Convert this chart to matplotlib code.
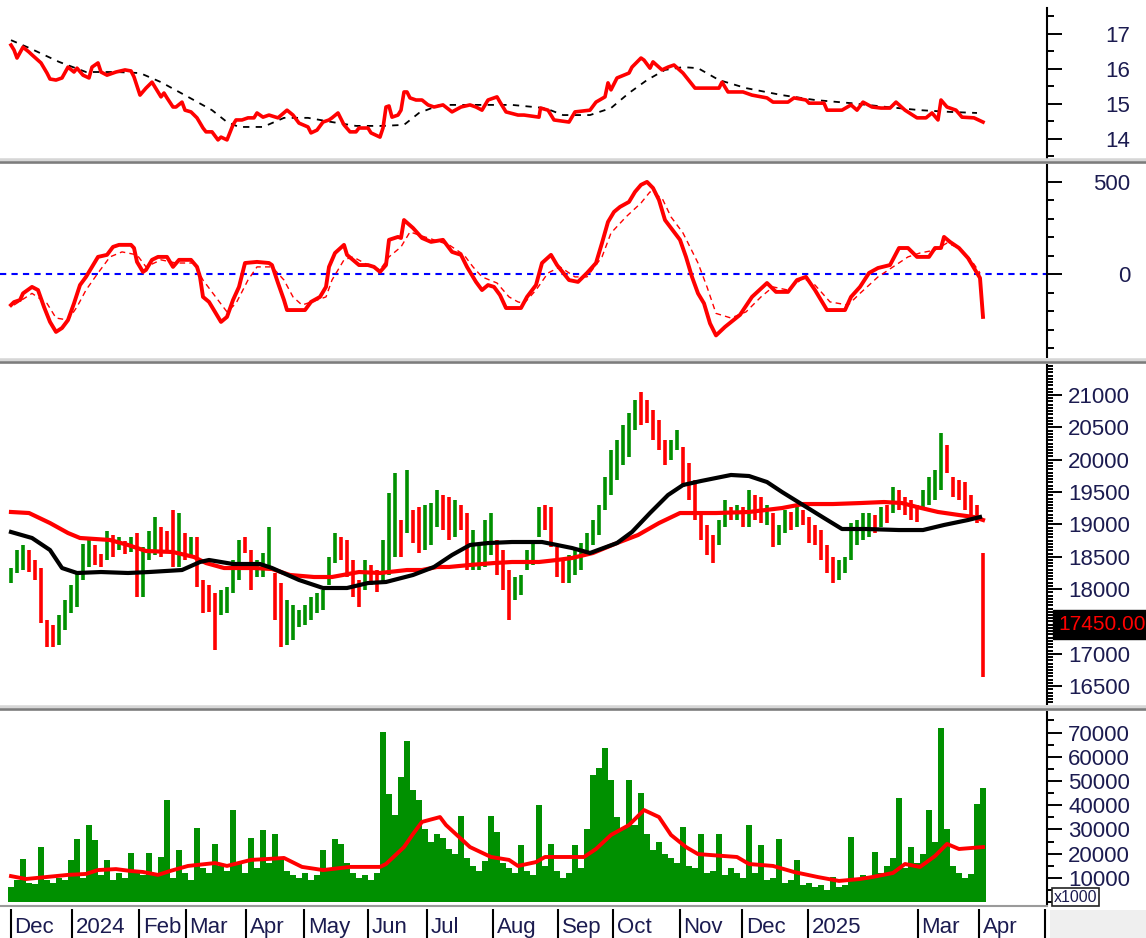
import matplotlib
matplotlib.use("Agg")
import numpy as np
import matplotlib.pyplot as plt
import matplotlib.transforms as mtransforms
from matplotlib.lines import Line2D
from matplotlib.patches import Rectangle
from matplotlib.ticker import MultipleLocator

plt.rcParams['font.family'] = ['Liberation Sans', 'DejaVu Sans']

# ---- data (x = trading-day index) ----
# top panel: red line and its dashed black average
p1_idx = [1,2,3,5,7,8,11,13,14,16,18,20,22,23,25,27,28,30,31,33,36,39,41,42,44,46,48,51,52,53,
          55,56,58,59,61,63,65,66,68,70,71,73,75,76,78,80,82,83,85,87,90,93,95,97,100,101,103,105,107,108,
          110,112,114,116,117,120,121,124,125,126,127,128,130,131,132,133,134,136,138,140,
          142,145,148,151,154,156,158,160,163,164,166,170,172,177,177.5,180,182,187,189,194,
          196,199,200,201,203,207,208,211,212,214,215,218,220,222,225,229,232,237,238,240,
          245,248,253,255,260,262,266,267,272,273,278,281,283,285,288,291,294,296,299,303,
          306,308,310,311,313,316,318,322,325]
p1_val = [16.67,16.53,16.3,16.61,16.47,16.39,16.16,15.87,15.7,15.67,15.73,16.04,15.9,16.01,15.81,15.73,16.04,16.16,15.9,15.81,
          15.9,15.96,15.93,15.76,15.24,15.44,15.61,15.19,15.3,15.16,14.9,14.9,15.04,14.81,14.76,14.59,14.3,14.19,14.19,13.96,
          14.04,13.96,14.39,14.53,14.53,14.59,14.59,14.73,14.61,14.67,14.59,14.81,14.67,14.44,14.33,14.16,14.24,14.47,14.53,14.59,
          14.73,14.39,14.19,14.19,14.3,14.3,14.16,14.04,14.3,14.9,14.93,14.61,14.67,14.81,15.33,15.33,15.16,15.1,15.1,14.96,
          14.9,14.96,14.76,14.9,14.96,14.9,14.81,15.1,15.19,15.04,14.76,14.67,14.67,14.61,14.87,14.81,14.53,14.47,14.76,14.81,
          15.04,15.19,15.59,15.39,15.73,15.87,16.04,16.3,16.24,16.01,16.19,15.96,16.04,16.1,15.87,15.44,15.44,15.44,15.61,15.33,
          15.33,15.24,15.16,15.04,15.04,15.16,15.1,15.01,15.01,14.81,14.81,14.96,14.81,15.04,14.9,14.87,14.87,15.04,14.81,14.59,
          14.59,14.73,14.53,15.1,14.9,14.81,14.61,14.59,14.47]
p1ma_idx = [1,7,17,26,36,44,51,60,68,73,77,85,92,100,108,116,125,132,137,144,
            155,168,179,185,194,201,207,213,219,225,230,237,246,258,269,281,293,304,314,323]
p1ma_val = [16.81,16.59,16.19,15.9,15.9,15.87,15.61,15.19,14.81,14.47,14.33,14.33,14.59,14.59,14.47,14.36,14.36,14.39,14.73,14.96,
            14.96,14.96,14.87,14.67,14.67,14.87,15.3,15.67,15.96,16.04,16.01,15.67,15.44,15.24,15.1,15.01,14.9,14.81,14.76,14.73]

# oscillator panel
osc_idx = [1,2,4,5,8,10,12,14,16,18,20,22,24,26,28,30,33,35,37,41,42,43,45,46,48,50,53,55,57,61,
           63,64,65,67,69,71,73,75,77,79,83,87,88,90,92,93,96,99,101,104,106,107,109,112,113,117,120,122,124,126,
           127,130,131,132,135,138,141,145,148,151,153,156,158,160,162,164,166,171,173,176,
           178,181,183,187,190,193,196,198,200,202,204,207,209,211,213,215,217,219,222,224,
           226,228,230,232,234,236,239,244,248,253,256,260,263,266,269,273,279,281,284,287,
           290,294,297,300,303,307,309,311,312,314,317,320,322,324,324.5,325]
osc_val = [-166,-150,-139,-103,-68,-85,-176,-257,-311,-290,-247,-157,-58,-14,40,94,105,148,159,159,
           142,67,13,24,78,94,94,40,78,78,40,-14,-122,-149,-203,-257,-230,-139,-68,61,
           67,61,50,-47,-139,-193,-193,-193,-149,-122,-68,40,115,159,105,50,50,40,13,50,
           186,202,196,293,250,196,175,186,121,105,40,-41,-85,-58,-68,-112,-182,-182,-122,-58,
           61,105,50,-31,-41,7,61,169,283,337,364,391,445,483,499,466,401,293,229,186,
           94,-14,-103,-157,-265,-330,-284,-219,-122,-47,-95,-95,-31,-14,-85,-193,-193,-122,-68,7,
           34,50,142,142,94,94,142,142,202,175,142,88,34,-20,-122,-230]
sig_idx = [2,8,13,16,20,23,26,30,34,38,43,46,51,56,62,65,70,73,76,80,
           83,88,92,95,98,103,106,108,112,115,120,124,127,131,134,137,142,147,152,155,
           158,163,167,170,172,176,180,184,189,193,198,201,206,211,214,218,221,225,230,233,
           236,241,246,251,255,260,265,269,274,280,284,290,295,300,304,309,313,317,321,324]
sig_val = [-166,-103,-157,-236,-247,-176,-85,7,94,121,105,40,78,61,61,-31,-139,-203,-157,-31,
           40,40,-31,-122,-166,-139,-122,-31,78,94,50,24,94,148,229,212,186,159,105,40,
           -14,-47,-122,-149,-157,-85,7,40,-14,-14,94,223,310,385,445,412,310,223,61,-68,
           -211,-236,-203,-122,-68,-85,-20,-58,-149,-166,-103,-14,40,94,115,131,169,142,78,7]

# price panel: one bar every second session
lows = [18100,18250,18300,18260,18140,17480,17100,17100,17130,17370,
        17630,17720,18140,18340,18370,18340,18450,18500,18600,18550,
        18570,17880,17880,18450,18530,18500,18570,18340,18340,18450,
        18530,18030,17630,17650,17060,17600,17630,17940,18140,18560,
        17990,18190,18190,18340,17520,17100,17130,17210,17410,17440,
        17520,17630,17680,18060,18400,18450,18190,17880,17720,17990,
        18060,17950,18090,18220,18500,18500,18870,18710,18560,18600,
        18680,18960,18910,18760,18800,18910,18300,18300,18300,18340,
        18530,18220,17990,17520,17830,17910,18300,18370,18800,18910,
        18650,18190,18090,18090,18220,18300,18560,18680,18840,19220,
        19450,19690,19920,20040,20460,20540,20570,20300,20150,19920,
        19990,20150,19580,19380,19070,18760,18530,18400,18680,18960,
        19070,19070,18960,18960,19070,19020,18990,18650,18680,18870,
        18910,18960,18990,18710,18680,18450,18250,18090,18140,18250,
        18450,18680,18760,18800,18870,18960,19020,19180,19220,19150,
        19070,19040,19220,19300,19380,19530,19790,19420,19380,19220,
        19070,19020,16640]
highs = [18330,18600,18680,18600,18450,18330,17520,17450,17600,17830,
         18060,18250,18700,18800,18680,18550,18900,18830,18800,18750,
         18800,18870,18650,18900,19110,18960,18900,19220,19170,18870,
         18800,18800,18140,18060,17940,17990,18030,18450,18760,18800,
         18600,18450,18560,18960,18250,18100,17830,17750,17680,17750,
         17880,17940,17990,18500,18870,18800,18760,18450,18140,18450,
         18370,18300,18760,19480,19790,19070,19840,19220,19270,19300,
         19330,19530,19450,19420,19380,19300,19180,18910,18710,19070,
         19180,18760,18600,18300,18190,18220,18600,18710,19270,19300,
         19270,18650,18450,18530,18600,18710,18870,19070,19300,19730,
         20150,20300,20540,20720,20920,21050,20920,20770,20610,20300,
         20300,20460,20200,19950,19690,19150,18990,18840,19070,19380,
         19270,19300,19270,19530,19450,19420,19300,19180,18990,19220,
         19190,19270,19220,19110,18990,18910,18680,18500,18450,18500,
         19020,19070,19180,19180,19150,19270,19300,19580,19530,19420,
         19380,19300,19530,19730,19840,20410,20230,19730,19690,19650,
         19450,19300,18560]
closes = [18250,18500,18600,18400,18200,17600,17250,17200,17400,17700,
          17900,18100,18550,18700,18500,18450,18800,18700,18700,18650,
          18650,18000,18500,18800,19000,18700,18650,18500,19000,18600,
          18600,18100,17800,17700,17300,17800,17900,18300,18700,18650,
          18100,18300,18450,18450,17700,17300,17500,17600,17600,17650,
          17800,17850,17900,18400,18800,18700,18250,18000,17850,18300,
          18200,18050,18600,19400,19600,18900,19100,19000,18700,19000,
          19200,19400,19100,18900,19200,19100,18400,18500,18550,18900,
          19000,18300,18100,17800,18100,18150,18500,18650,19200,19150,
          18800,18300,18200,18400,18500,18650,18800,19000,19250,19650,
          20000,20200,20400,20600,20850,20700,20650,20400,20300,20000,
          20200,20300,19700,19450,19200,18900,18700,18600,18950,19300,
          19150,19200,19100,19450,19350,19100,19150,18750,18800,19150,
          19100,19200,19050,18800,18750,18550,18350,18200,18350,18400,
          18900,18950,19050,19100,19000,19200,19150,19500,19400,19250,
          19200,19150,19450,19650,19750,20300,19900,19500,19450,19300,
          19150,19100,17450]
ma_r_idx = [1,7,14,20,24,34,40,46,55,62,66,72,82,88,94,102,108,117,124,133,
            138,143,147,154,162,168,177,183,188,195,203,210,217,224,236,247,258,265,275,284,
            292,298,303,310,317,322,325]
ma_r_val = [19192,19176,19021,18867,18790,18759,18682,18589,18573,18496,18403,18326,18326,18311,18218,18187,18187,18264,18249,18295,
            18295,18342,18342,18373,18403,18419,18419,18450,18481,18558,18712,18836,19021,19176,19176,19192,19253,19315,19315,19330,
            19346,19330,19269,19192,19145,19114,19068]
ma_k_idx = [1,8,14,18,23,31,40,47,58,64,67,75,84,88,97,105,113,120,126,135,
            142,148,154,160,168,178,183,188,194,203,208,214,220,225,231,241,247,253,258,265,
            272,278,286,297,305,312,320,324]
ma_k_val = [18883,18790,18604,18326,18249,18264,18249,18264,18295,18419,18450,18388,18388,18326,18141,18017,18017,18094,18110,18218,
            18342,18527,18682,18712,18728,18728,18682,18635,18558,18712,18883,19176,19454,19609,19671,19764,19748,19655,19501,19300,
            19099,18929,18929,18913,18913,18991,19068,19114]
last_price = 17450

# volume panel
vols = [6000,9000,17800,8000,7500,22700,9000,8000,10000,9000,
        17300,26000,10000,31800,25600,11000,17300,9000,12000,10000,
        20200,13000,11000,20200,12000,18600,42100,10000,21500,12000,
        9000,30600,14000,12000,24000,15000,13000,38000,16000,12000,
        26400,14000,29800,16000,28000,18000,13000,11000,10000,12000,
        9000,11000,21500,13000,26000,24000,16000,12000,10000,11000,
        9000,12000,70200,44600,36000,51600,66500,46300,42100,30000,
        25000,28000,26400,22000,20000,35500,18000,15000,13000,17000,
        35500,28900,16000,14000,12000,23600,13000,11000,40100,15000,
        24000,13000,10000,12000,23600,14000,30000,52500,55400,63600,
        50400,35000,30000,50400,32000,45000,28000,21500,25000,20000,
        18000,16000,31000,15000,14000,28100,12000,13000,28100,11000,
        14000,12000,10000,31800,12000,23600,9000,10000,26000,8000,
        9000,17400,7000,8000,6000,7000,5000,10300,6000,7000,
        26900,9000,11000,10000,20700,12000,15000,18000,43000,14000,
        22700,16000,20000,38000,25000,71900,30200,15000,12000,10000,
        11600,40500,47100]
vma_idx = [1,6,20,26,30,36,41,45,50,54,60,69,73,81,87,92,98,105,114,124,
           126,132,135,138,144,146,154,161,167,170,176,179,192,196,201,207,212,217,221,226,
           230,243,247,255,262,270,277,284,288,295,299,304,309,313,317,325]
vma_val = [10700,9500,11200,11600,13200,13600,12800,12400,11200,12800,14900,16100,14900,17400,17800,18200,14500,13200,14500,14500,
           15700,22700,28100,33100,35100,31800,22700,18600,17400,14900,16500,18600,18600,21900,27700,31800,38000,35100,27700,22700,
           19800,18600,15700,14900,12400,10300,8700,9500,10300,12000,15700,14500,19000,24000,21900,22700]

# month starts (trading-day index) and their labels
month_pos = [1, 21.3, 43.7, 59.3, 79.3, 98.7, 120, 139.7, 161.7, 183.3, 201.7, 224, 244.7, 266.7, 303.3, 323.7, 345.6]
month_lbl = ["Dec", "2024", "Feb", "Mar", "Apr", "May", "Jun", "Jul", "Aug", "Sep", "Oct", "Nov", "Dec", "2025", "Mar", "Apr", ""]

p1_ticks = [14, 15, 16, 17]
p2_ticks = [0, 500]
p3_ticks = list(range(16500, 21001, 500))
p4_ticks = list(range(10000, 70001, 10000))

# ---- drawing ----
W, H = 1146, 938
RED, GREEN, NAVY = '#ff0000', '#009000', '#1b1b50'
fig = plt.figure(figsize=(W / 100, H / 100), dpi=100)
fig.patch.set_facecolor('white')
XL = (-8 / 3, (1047 - 8) / 3)


def panel(top, bottom):
    ax = fig.add_axes([0, 1 - bottom / H, 1047 / W, (bottom - top) / H])
    ax.set_xlim(*XL)
    ax.set_xticks([])
    for s in ['top', 'left', 'bottom']:
        ax.spines[s].set_visible(False)
    ax.spines['right'].set_linewidth(1.5)
    ax.yaxis.tick_right()
    ax.tick_params(axis='y', which='major', length=10.8, width=1.4, pad=49,
                   labelsize=16, labelcolor=NAVY)
    ax.tick_params(axis='y', which='minor', length=5, width=1.4)
    return ax


def right_labels(ax, ticks, labels):
    ax.set_yticks(ticks, labels=labels)
    for t in ax.get_yticklabels():
        t.set_horizontalalignment('right')


# top panel
ax1 = panel(8, 158)
ax1.set_ylim(13.443, 17.729)
ax1.plot(p1ma_idx, p1ma_val, color='black', lw=1.3, ls=(0, (3.5, 3.5)))
ax1.plot(p1_idx, p1_val, color=RED, lw=2.6)
right_labels(ax1, p1_ticks, [str(v) for v in p1_ticks])
ax1.yaxis.set_minor_locator(MultipleLocator(0.5))

# oscillator panel
ax2 = panel(165, 357)
ax2.set_ylim(-446.5, 590.2)
ax2.axhline(0, color='#0000ff', lw=1.5, ls=(0, (3, 2.5)))
ax2.plot(sig_idx, sig_val, color=RED, lw=1.0, ls=(0, (4, 3)))
ax2.plot(osc_idx, osc_val, color=RED, lw=2.8)
right_labels(ax2, p2_ticks, [str(v) for v in p2_ticks])
ax2.yaxis.set_minor_locator(MultipleLocator(100))

# price panel
ax3 = panel(365, 704)
ax3.set_ylim(16224, 21464)
bar_idx = np.arange(len(closes)) * 2 + 1
prev = [closes[0]] + closes[:-1]
cols = [GREEN if c >= p else RED for c, p in zip(closes, prev)]
ax3.vlines(bar_idx, lows, highs, colors=cols, lw=2.6)
ax3.plot(ma_r_idx, ma_r_val, color=RED, lw=3)
ax3.plot(ma_k_idx, ma_k_val, color='black', lw=3)
# the 17500 label sits under the last-price box, as in the reference
right_labels(ax3, p3_ticks, ["" if v == 17500 else str(v) for v in p3_ticks])
ax3.yaxis.set_minor_locator(MultipleLocator(50))
ax3.tick_params(axis='y', which='minor', length=4)
tr = mtransforms.blended_transform_factory(ax3.transAxes, ax3.transData)
ax3.text(1 + 11 / 1047, last_price, f"{last_price:.2f}", transform=tr, ha='left', va='center',
         fontsize=15, color=RED, clip_on=False,
         bbox=dict(boxstyle='square,pad=0.25', fc='black', ec='black'))

# volume panel
ax4 = panel(712, 904)
ax4.set_ylim(-826, 78512)
ax4.bar(bar_idx, vols, width=1.9, color=GREEN, linewidth=0)
ax4.plot(vma_idx, vma_val, color=RED, lw=2.8)
right_labels(ax4, p4_ticks, [str(v) for v in p4_ticks])
ax4.yaxis.set_minor_locator(MultipleLocator(5000))
fig.text(1054 / W, 1 - 897 / H, "x1000", ha='left', va='center', fontsize=11.5, color=NAVY,
         bbox=dict(boxstyle='square,pad=0.12', fc='white', ec='#222222', lw=1.2))

# panel separators
for y in [161, 361, 708]:
    fig.add_artist(Line2D([0, 1], [1 - y / H] * 2, transform=fig.transFigure, color='#d6d6d6', lw=4))
    fig.add_artist(Line2D([0, 1], [1 - (y + 1) / H] * 2, transform=fig.transFigure, color='#7c7c7c', lw=1.8))

# month band
fig.patches.append(Rectangle((1050 / W, 0), 96 / W, 28 / H, transform=fig.transFigure,
                             fc='#efefef', ec='none'))
axm = fig.add_axes([0, 0, 1047 / W, 31 / H])
axm.set_xlim(*XL)
axm.set_ylim(0, 1)
axm.axis('off')
fig.add_artist(Line2D([0, 1047 / W], [1 - 906 / H] * 2, transform=fig.transFigure, color='#9a9a9a', lw=1.5))
axm.vlines(month_pos, 0, 0.94, color='black', lw=1.5)
for p, lbl in zip(month_pos, month_lbl):
    axm.text(p + 1.2, 0.16, lbl, ha='left', va='baseline', fontsize=16, color=NAVY, clip_on=False)

fig.savefig("out.png", dpi=100)
